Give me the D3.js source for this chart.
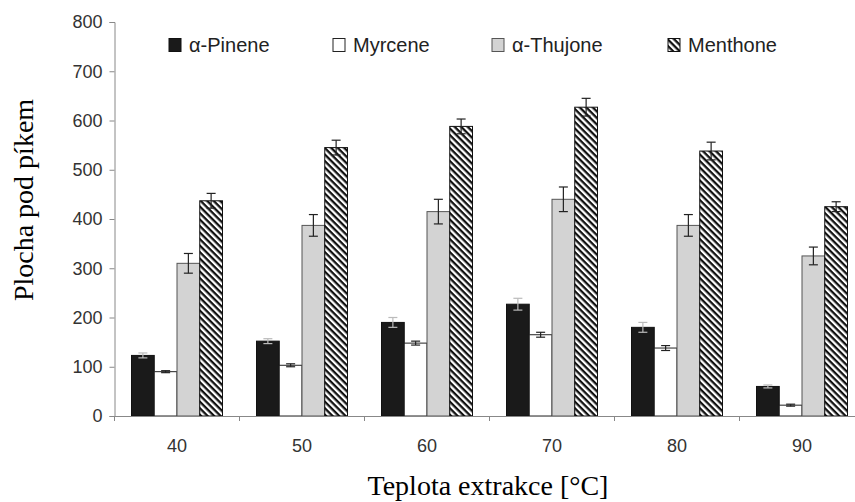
<!DOCTYPE html>
<html>
<head>
<meta charset="utf-8">
<script src="https://cdn.jsdelivr.net/npm/d3@7/dist/d3.min.js"></script>
<style>
  html, body { margin: 0; padding: 0; background: #fff; }
  svg { display: block; }
</style>
</head>
<body>
<svg id="chart" width="855" height="502"></svg>
<script>
// Extraction temperatures (°C)
const temperatures = ["40", "50", "60", "70", "80", "90"];
const compounds = ["α-Pinene", "Myrcene", "α-Thujone", "Menthone"];

// Peak areas per compound
const pinene    = [123, 152, 190, 227, 180, 60];
const myrcene   = [90, 103, 148, 165, 138, 22];
const thujone   = [310, 387, 415, 440, 387, 325];
const menthone  = [437, 545, 588, 627, 538, 425];

// Standard deviations
const pineneErr   = [5, 5, 10, 12, 10, 3];
const myrceneErr  = [2, 3, 4, 5, 5, 2];
const thujoneErr  = [20, 22, 25, 25, 22, 18];
const menthoneErr = [15, 15, 15, 18, 18, 10];

const yTicks = [0, 100, 200, 300, 400, 500, 600, 700, 800];

const seriesValues = [pinene, myrcene, thujone, menthone];
const seriesErrors = [pineneErr, myrceneErr, thujoneErr, menthoneErr];

const svg = d3.select("#chart");
const W = 855;
const plotLeft = 114.5, plotRight = 864.5, plotBottom = 416, plotTop = 22;

const defs = svg.append("defs");
const hatch = defs.append("pattern")
  .attr("id", "hatch")
  .attr("patternUnits", "userSpaceOnUse")
  .attr("width", 4.6).attr("height", 4.6)
  .attr("patternTransform", "rotate(45)");
hatch.append("rect").attr("width", 4.6).attr("height", 4.6).attr("fill", "#fff");
hatch.append("rect").attr("x", 0).attr("y", 0).attr("width", 4.6).attr("height", 2.3).attr("fill", "#111");

const fills = ["#1a1a1a", "#ffffff", "#d3d3d3", "url(#hatch)"];
const strokes = ["#111", "#222", "#555", "#111"];

const x = d3.scaleBand()
  .domain(temperatures)
  .range([plotLeft, plotRight])
  .paddingInner(0.272)
  .paddingOuter(0.136);

const xSub = d3.scaleBand()
  .domain(d3.range(compounds.length))
  .range([0, x.bandwidth()]);

const y = d3.scaleLinear()
  .domain([0, 800])
  .range([plotBottom, plotTop]);

// Bars
const groups = svg.append("g").selectAll("g")
  .data(temperatures)
  .join("g")
  .attr("transform", d => `translate(${x(d)},0)`);

const rows = (t, i) => seriesValues.map((s, k) => ({ k, v: s[i], e: seriesErrors[k][i] }));

groups.selectAll("rect")
  .data(rows)
  .join("rect")
  .attr("x", d => xSub(d.k))
  .attr("y", d => y(d.v))
  .attr("width", xSub.bandwidth())
  .attr("height", d => y(0) - y(d.v))
  .attr("fill", d => fills[d.k])
  .attr("stroke", d => strokes[d.k])
  .attr("stroke-width", 1);

// Error bars
groups.selectAll("g.err")
  .data(rows)
  .join("g")
  .attr("class", "err")
  .each(function(d) {
    const g = d3.select(this);
    const cx = xSub(d.k) + xSub.bandwidth() / 2;
    const col = d.k === 0 ? "#bbb" : "#222";
    g.append("line").attr("x1", cx).attr("x2", cx)
      .attr("y1", y(d.v + d.e)).attr("y2", y(d.v - d.e))
      .attr("stroke", col).attr("stroke-width", 1.2);
    [d.v + d.e, d.v - d.e].forEach(v => {
      g.append("line").attr("x1", cx - 4.5).attr("x2", cx + 4.5)
        .attr("y1", y(v)).attr("y2", y(v))
        .attr("stroke", col).attr("stroke-width", 1.2);
    });
  });

// Y axis
const yAxis = svg.append("g")
  .attr("transform", `translate(${plotLeft},0)`)
  .call(d3.axisLeft(y).tickValues(yTicks).tickSize(5).tickPadding(7));
yAxis.select(".domain").attr("stroke", "#888");
yAxis.selectAll(".tick line").attr("stroke", "#888");
yAxis.selectAll("text")
  .attr("font-family", "Liberation Sans, Arial, sans-serif")
  .attr("font-size", 18).attr("fill", "#333");

// X axis
const xAxis = svg.append("g")
  .attr("transform", `translate(0,${y(0)})`)
  .call(d3.axisBottom(x).tickSize(0).tickPadding(23));
xAxis.select(".domain").attr("stroke", "#888");
xAxis.selectAll("text")
  .attr("font-family", "Liberation Sans, Arial, sans-serif")
  .attr("font-size", 18).attr("fill", "#333");

// Category boundary ticks
const step = x.step();
const boundaries = temperatures.map(t => x(t) - (step - x.bandwidth()) / 2);
svg.append("g").selectAll("line")
  .data(boundaries)
  .join("line")
  .attr("x1", d => d).attr("x2", d => d)
  .attr("y1", y(0)).attr("y2", y(0) + 5)
  .attr("stroke", "#888");

// Axis titles
svg.append("text")
  .attr("transform", `translate(33,200) rotate(-90)`)
  .attr("text-anchor", "middle")
  .attr("font-family", "Liberation Serif, Times New Roman, serif")
  .attr("font-size", 28).attr("fill", "#000")
  .text("Plocha pod píkem");

svg.append("text")
  .attr("x", 488)
  .attr("y", 495)
  .attr("text-anchor", "middle")
  .attr("font-family", "Liberation Serif, Times New Roman, serif")
  .attr("font-size", 28).attr("fill", "#000")
  .text("Teplota extrakce [°C]");

// Legend
const legendX = [169, 333, 492, 668];
const legend = svg.append("g").selectAll("g")
  .data(compounds)
  .join("g")
  .attr("transform", (d, i) => `translate(${legendX[i]},38)`);
legend.append("rect")
  .attr("y", 0.5)
  .attr("width", 12).attr("height", 13)
  .attr("fill", (d, i) => fills[i])
  .attr("stroke", (d, i) => strokes[i]);
legend.append("text")
  .attr("x", 20).attr("y", 14)
  .attr("font-family", "Liberation Sans, Arial, sans-serif")
  .attr("font-size", 20).attr("fill", "#222")
  .text(d => d);
</script>
</body>
</html>
